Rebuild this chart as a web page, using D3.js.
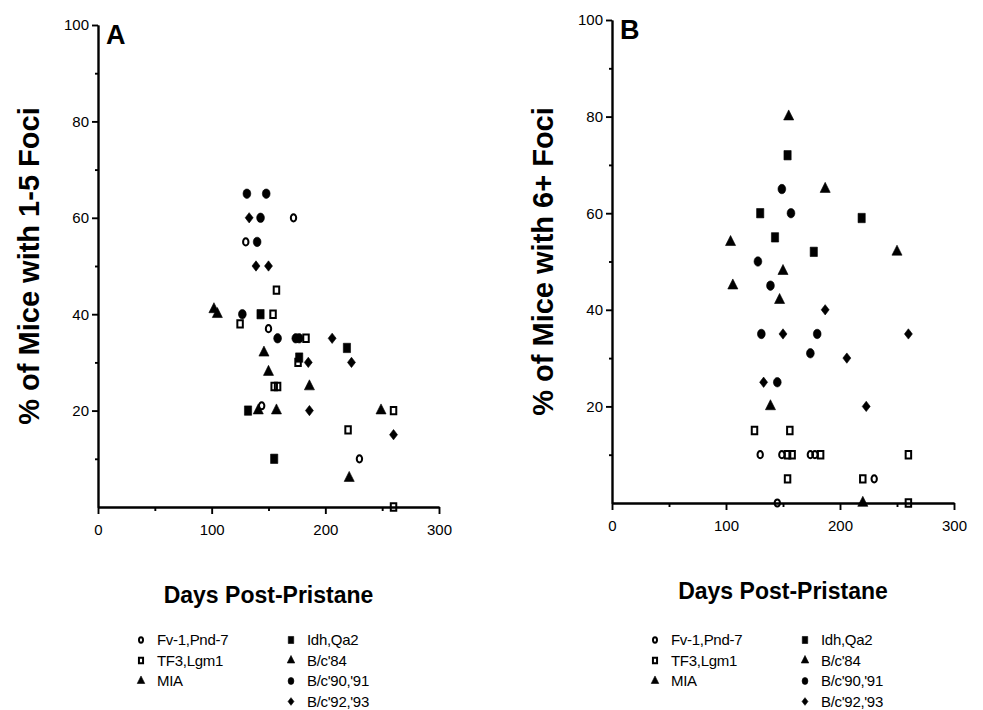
<!DOCTYPE html>
<html>
<head>
<meta charset="utf-8">
<script src="https://cdn.jsdelivr.net/npm/d3@7"></script>
<style>
  body { margin: 0; background: #fff; }
  svg { display: block; font-family: "Liberation Sans", Arial, Helvetica, sans-serif; }
  .axis path, .axis line { stroke: #000; stroke-width: 1.9; }
  .axis text { font-size: 15px; fill: #000; font-family: "Liberation Sans", Arial, sans-serif; }
</style>
</head>
<body>
<svg id="chart" width="983" height="710"></svg>
<script>
// legend groups, in legend order
const groups = ["Fv-1,Pnd-7", "TF3,Lgm1", "MIA", "Idh,Qa2", "B/c'84", "B/c'90,'91", "B/c'92,'93"];
const xTicks = [0, 100, 200, 300];
const xMinor = [50, 150, 250];
const yTicks = [20, 40, 60, 80, 100];
const yMinor = [10, 30, 50, 70, 90];

// panel A: [days, % of mice with 1-5 foci]
const a_fv1 = [[130, 55], [150, 37], [172, 60], [144, 21], [230, 10]];
const a_tf3 = [[157, 45], [154, 40], [125, 38], [183, 35], [176, 30], [155, 25], [158, 25], [260, 20], [220, 16], [260, 0]];
const a_mia = [[102, 41], [249, 20], [221, 6]];
const a_idh = [[143, 40], [177, 31], [132, 20], [155, 10], [219, 33]];
const a_bc84 = [[105, 40], [146, 32], [150, 28], [141, 20], [157, 20], [186, 25]];
const a_bc90 = [[131, 65], [148, 65], [143, 60], [140, 55], [127, 40], [158, 35], [174, 35], [177, 35]];
const a_bc92 = [[133, 60], [139, 50], [150, 50], [206, 35], [185, 30], [223, 30], [186, 20], [260, 15]];

// panel B: [days, % of mice with 6+ foci]
const b_fv1 = [[130, 10], [149, 10], [174, 10], [178, 10], [230, 5], [145, 0]];
const b_tf3 = [[125, 15], [156, 15], [154, 10], [158, 10], [183, 10], [260, 10], [154, 5], [220, 5], [260, 0]];
const b_mia = [[104, 54], [106, 45], [250, 52], [220, 0]];
const b_idh = [[154, 72], [130, 60], [219, 59], [143, 55], [177, 52]];
const b_bc84 = [[155, 80], [187, 65], [150, 48], [147, 42], [139, 20]];
const b_bc90 = [[149, 65], [157, 60], [128, 50], [139, 45], [131, 35], [180, 35], [174, 31], [145, 25]];
const b_bc92 = [[187, 40], [150, 35], [260, 35], [206, 30], [133, 25], [223, 20]];

const svg = d3.select("#chart");

// marker look for each group index
const markers = [
  { type: d3.symbolCircle, size: 28, fill: "none", sx: 0.9, sy: 1.2 },
  { type: d3.symbolSquare, size: 30, fill: "none", sx: 1.0, sy: 1.35 },
  { type: d3.symbolTriangle, size: 44, fill: "#000", sx: 1.0, sy: 1.15 },
  { type: d3.symbolSquare, size: 52, fill: "#000", sx: 1.0, sy: 1.3 },
  { type: d3.symbolTriangle, size: 44, fill: "#000", sx: 1.0, sy: 1.15 },
  { type: d3.symbolCircle, size: 56, fill: "#000", sx: 0.92, sy: 1.12 },
  { type: d3.symbolDiamond, size: 38, fill: "#000", sx: 1.2, sy: 0.9 },
];

function drawMarker(g, i, cx, cy, k = 1) {
  const m = markers[i];
  g.append("path")
    .attr("d", d3.symbol().type(m.type).size(m.size)())
    .attr("transform", `translate(${cx},${cy}) scale(${m.sx * k},${m.sy * k})`)
    .attr("fill", m.fill)
    .attr("stroke", "#000")
    .attr("stroke-width", m.fill === "none" ? 2 : 0.6)
    .attr("vector-effect", "non-scaling-stroke");
}

function renderPanel(p) {
  const x = d3.scaleLinear().domain([0, 300]).range([p.left, p.right]);
  const y = d3.scaleLinear().domain([0, 100]).range([p.bottom, p.top]);
  const g = svg.append("g");

  g.append("g").attr("class", "axis")
    .attr("transform", `translate(0,${p.bottom})`)
    .call(d3.axisBottom(x).tickValues(xTicks).tickSize(7).tickSizeOuter(0).tickPadding(10));
  g.append("g").attr("class", "axis")
    .attr("transform", `translate(0,${p.bottom})`)
    .call(d3.axisBottom(x).tickValues(xMinor).tickSize(4).tickSizeOuter(0).tickFormat(""));
  g.append("g").attr("class", "axis")
    .attr("transform", `translate(${p.left},0)`)
    .call(d3.axisLeft(y).tickValues(yTicks).tickSize(6).tickSizeOuter(0).tickPadding(3));
  g.append("g").attr("class", "axis")
    .attr("transform", `translate(${p.left},0)`)
    .call(d3.axisLeft(y).tickValues(yMinor).tickSize(3).tickSizeOuter(0).tickFormat(""));

  p.series.forEach((pts, i) => {
    pts.forEach((d) => drawMarker(g, i, x(d[0]), y(d[1])));
  });

  g.append("text")
    .attr("x", p.left + 8)
    .attr("y", p.top + 19)
    .attr("font-size", 27)
    .attr("font-weight", 700)
    .text(p.letter);

  g.append("text")
    .attr("transform", `translate(${p.left - 59},${(p.top + p.bottom) / 2}) rotate(-90)`)
    .attr("text-anchor", "middle")
    .attr("font-size", 29)
    .attr("font-weight", 700)
    .text(p.ylabel);

  g.append("text")
    .attr("x", (p.left + p.right) / 2)
    .attr("y", p.bottom + 96)
    .attr("text-anchor", "middle")
    .attr("font-size", 23)
    .attr("font-weight", 700)
    .text("Days Post-Pristane");

  // legend: two columns
  groups.forEach((name, i) => {
    const col = i < 3 ? 0 : 1;
    const row = i < 3 ? i : i - 3;
    const lx = p.left + 43 + col * 150;
    const ly = 640 + row * 20.5;
    drawMarker(g, i, lx, ly, 0.75);
    g.append("text")
      .attr("x", lx + 16)
      .attr("y", ly + 5)
      .attr("font-size", 15)
      .attr("letter-spacing", -0.3)
      .text(name);
  });
}

renderPanel({
  letter: "A", left: 98, right: 439, top: 25, bottom: 507,
  ylabel: "% of Mice with 1-5 Foci",
  series: [a_fv1, a_tf3, a_mia, a_idh, a_bc84, a_bc90, a_bc92],
});
renderPanel({
  letter: "B", left: 612, right: 954, top: 20, bottom: 503,
  ylabel: "% of Mice with 6+ Foci",
  series: [b_fv1, b_tf3, b_mia, b_idh, b_bc84, b_bc90, b_bc92],
});
</script>
</body>
</html>
